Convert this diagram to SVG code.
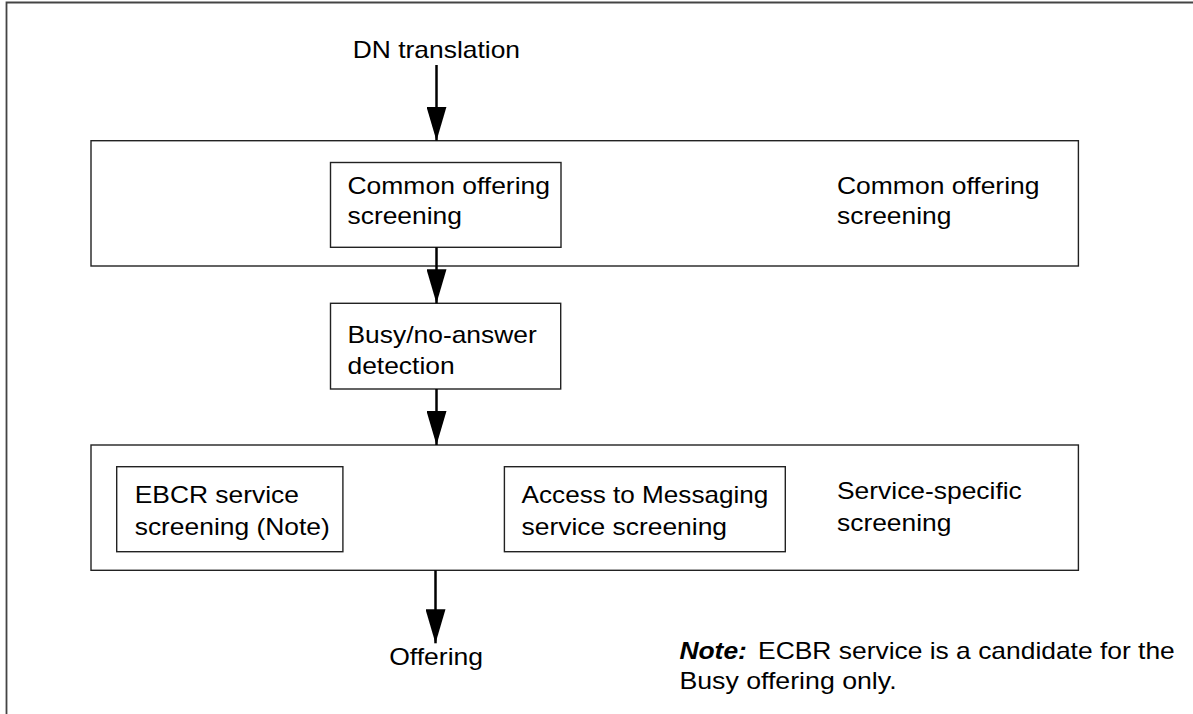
<svg xmlns="http://www.w3.org/2000/svg" width="1193" height="714" viewBox="0 0 1193 714">
<defs>
<style>
.box{fill:#fff;stroke:#222;stroke-width:1.4}
.frame{fill:none;stroke:#444;stroke-width:1.8}
.t{font-family:"Liberation Sans",Arial,Helvetica,sans-serif;font-size:24px;fill:#000}
.b{font-weight:bold;font-style:italic}
.conn{stroke:#000;stroke-width:2.5;fill:none;marker-end:url(#ah)}
</style>
<marker id="ah" viewBox="0 0 34 20" refX="34" refY="10" markerWidth="34" markerHeight="20" markerUnits="userSpaceOnUse" orient="auto">
<path d="M0,0 L34,10 L0,20 Z" fill="#000"/>
</marker>
</defs>
<rect width="1193" height="714" fill="#fff"/>
<path class="frame" d="M6.5,714 L6.5,2.5 L1193,2.5"/>

<g id="top-group">
<rect class="box" x="91" y="140.7" width="987.4" height="125.3"/>
<text class="t" x="837" y="194" textLength="202.5" lengthAdjust="spacingAndGlyphs">Common offering</text>
<text class="t" x="837" y="224" textLength="114.4" lengthAdjust="spacingAndGlyphs">screening</text>
</g>
<g id="common-offering">
<rect class="box" x="330.5" y="162.5" width="230.5" height="84.8"/>
<text class="t" x="347.5" y="194" textLength="202.5" lengthAdjust="spacingAndGlyphs">Common offering</text>
<text class="t" x="347.5" y="224" textLength="114.4" lengthAdjust="spacingAndGlyphs">screening</text>
</g>
<g id="busy">
<rect class="box" x="330.5" y="303.3" width="230.2" height="85.7"/>
<text class="t" x="347.5" y="342.7" textLength="189.3" lengthAdjust="spacingAndGlyphs">Busy/no-answer</text>
<text class="t" x="347.5" y="374" textLength="107.1" lengthAdjust="spacingAndGlyphs">detection</text>
</g>
<g id="service-specific">
<rect class="box" x="91" y="445" width="987.4" height="125.3"/>
<text class="t" x="837" y="499.3" textLength="184.8" lengthAdjust="spacingAndGlyphs">Service-specific</text>
<text class="t" x="837" y="531" textLength="114.4" lengthAdjust="spacingAndGlyphs">screening</text>
</g>
<g id="ebcr">
<rect class="box" x="116.7" y="466.7" width="226.2" height="85"/>
<text class="t" x="134.7" y="503.3" textLength="164.3" lengthAdjust="spacingAndGlyphs">EBCR service</text>
<text class="t" x="134.7" y="535" textLength="195.1" lengthAdjust="spacingAndGlyphs">screening (Note)</text>
</g>
<g id="access">
<rect class="box" x="504.4" y="466.7" width="280.9" height="85"/>
<text class="t" x="521.6" y="503.3" textLength="246.8" lengthAdjust="spacingAndGlyphs">Access to Messaging</text>
<text class="t" x="521.6" y="535" textLength="205.4" lengthAdjust="spacingAndGlyphs">service screening</text>
</g>
<g id="dn-translation">
<text class="t" x="352.8" y="58.3" textLength="167.2" lengthAdjust="spacingAndGlyphs">DN translation</text>
</g>
<g id="offering">
<text class="t" x="389.2" y="665" textLength="93.9" lengthAdjust="spacingAndGlyphs">Offering</text>
</g>
<g id="note">
<text class="t b" x="679.4" y="659.3" textLength="67.5" lengthAdjust="spacingAndGlyphs">Note:</text>
<text class="t" x="758.1" y="659.3" textLength="416.7" lengthAdjust="spacingAndGlyphs">ECBR service is a candidate for the</text>
<text class="t" x="679.4" y="689.3" textLength="217.2" lengthAdjust="spacingAndGlyphs">Busy offering only.</text>
</g>

<g id="connectors">
<line class="conn" x1="436.5" y1="65" x2="436.5" y2="140.7"/>
<line class="conn" x1="436.5" y1="247.3" x2="436.5" y2="303.3"/>
<line class="conn" x1="436.5" y1="389" x2="436.5" y2="445"/>
<line class="conn" x1="435.5" y1="570.3" x2="435.5" y2="643.3"/>
</g>
</svg>
